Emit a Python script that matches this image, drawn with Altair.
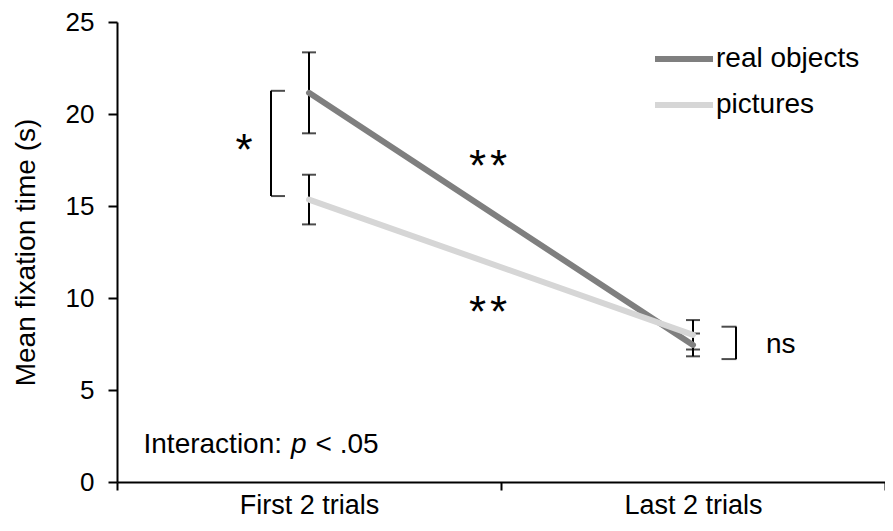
import altair as alt
import pandas as pd

# ---- data ----
conditions = ["First 2 trials", "Last 2 trials"]
series_names = ["real objects", "pictures"]
real_means = [21.15, 7.45]
real_errors = [2.2, 0.62]
picture_means = [15.35, 8.0]
picture_errors = [1.35, 0.8]
series_colors = ["#7f7f7f", "#d6d6d6"]
y_ticks = [0, 5, 10, 15, 20, 25]

rows = []
for name, means, errs in [
    (series_names[0], real_means, real_errors),
    (series_names[1], picture_means, picture_errors),
]:
    for c, m, e in zip(conditions, means, errs):
        rows.append({"condition": c, "series": name, "mean": m, "lo": m - e, "hi": m + e})
df = pd.DataFrame(rows)

FONT = "Liberation Sans"
FIRST, LAST = conditions

x_enc = alt.X(
    "condition:N",
    bandPosition=0.5,
    scale=alt.Scale(type="band", domain=conditions, paddingInner=0, paddingOuter=0),
    axis=alt.Axis(
        title=None, tickBand="extent", labelFontSize=27, labelPadding=2,
        tickSize=8, labelAngle=0,
    ),
)
y_scale = alt.Scale(domain=[0, 25], nice=False, zero=True)
y_enc = alt.Y(
    "mean:Q",
    scale=y_scale,
    axis=alt.Axis(
        values=y_ticks, title="Mean fixation time (s)", grid=False,
        labelFontSize=26, labelPadding=14, tickSize=9,
        titleFontSize=28, titleFontWeight="normal", titlePadding=25,
    ),
)

base = alt.Chart(df)

err_rule = base.mark_rule(color="black", strokeWidth=2).encode(
    x=x_enc, y=alt.Y("lo:Q", scale=y_scale), y2="hi:Q"
)
cap_lo = base.mark_tick(color="black", size=14, thickness=2).encode(
    x=x_enc, y=alt.Y("lo:Q", scale=y_scale)
)
cap_hi = base.mark_tick(color="black", size=14, thickness=2).encode(
    x=x_enc, y=alt.Y("hi:Q", scale=y_scale)
)
lines = base.mark_line(strokeWidth=6, strokeCap="round").encode(
    x=x_enc,
    y=y_enc,
    color=alt.Color(
        "series:N",
        scale=alt.Scale(domain=series_names, range=series_colors),
        legend=alt.Legend(
            title=None, orient="none", legendX=535, legendY=5,
            symbolType="stroke", symbolStrokeWidth=6, symbolSize=3364,
            labelFontSize=28, labelFont=FONT, labelColor="black",
            labelOffset=0, rowPadding=-4, padding=0,
        ),
    ),
    order=alt.Order("series:N", sort="ascending"),
)


def xd(cat):
    return alt.XDatum(cat, bandPosition=0.5)


def yd(v):
    return alt.YDatum(v, scale=y_scale)


# annotations use a single-row dataset so each mark is drawn once
ann = alt.Chart(alt.Data(values=[{}]))

# bracket for "*"
br1_v = ann.mark_rule(color="black", strokeWidth=2, xOffset=-38).encode(
    x=xd(FIRST), y=yd(21.26), y2=alt.Y2Datum(15.54)
)
br1_a = ann.mark_tick(color="black", size=14, thickness=2, xOffset=-31).encode(
    x=xd(FIRST), y=yd(21.26)
)
br1_b = ann.mark_tick(color="black", size=14, thickness=2, xOffset=-31).encode(
    x=xd(FIRST), y=yd(15.54)
)
# bracket for "ns"
br2_v = ann.mark_rule(color="black", strokeWidth=2, xOffset=43).encode(
    x=xd(LAST), y=yd(8.44), y2=alt.Y2Datum(6.68)
)
br2_a = ann.mark_tick(color="black", size=15, thickness=2, xOffset=36).encode(
    x=xd(LAST), y=yd(8.44)
)
br2_b = ann.mark_tick(color="black", size=15, thickness=2, xOffset=36).encode(
    x=xd(LAST), y=yd(6.68)
)

txt = dict(font=FONT, color="black", baseline="alphabetic", fontWeight="normal")


def star(dx, yv):
    return ann.mark_text(text="*", fontSize=44, align="center", xOffset=dx, **txt).encode(
        x=xd(FIRST), y=yd(yv)
    )


stars = [
    star(-65, 17.24),
    star(168.5, 16.34), star(189.5, 16.34),
    star(168.5, 8.4), star(189.5, 8.4),
]
ns = ann.mark_text(text="ns", fontSize=28, align="left", xOffset=73, **txt).encode(
    x=xd(LAST), y=yd(7.0)
)
inter1 = ann.mark_text(text="Interaction:", fontSize=28, align="left", xOffset=-165.5, **txt).encode(
    x=xd(FIRST), y=yd(1.6)
)
inter2 = ann.mark_text(text="p", fontSize=28, fontStyle="italic", align="left", xOffset=-18, **txt).encode(
    x=xd(FIRST), y=yd(1.6)
)
inter3 = ann.mark_text(text="< .05", fontSize=28, align="left", xOffset=6.5, **txt).encode(
    x=xd(FIRST), y=yd(1.6)
)

chart = (
    alt.layer(
        err_rule, cap_lo, cap_hi, lines,
        br1_v, br1_a, br1_b, br2_v, br2_a, br2_b,
        *stars, ns, inter1, inter2, inter3,
    )
    .properties(
        width=768, height=460,
        padding={"left": 109, "top": 14, "right": 0, "bottom": 41},
        autosize=alt.AutoSizeParams(type="none"),
        background="white",
    )
    .configure_view(stroke=None)
    .configure_axis(
        domainColor="black", domainWidth=2, tickColor="black", tickWidth=2,
        labelColor="black", titleColor="black", labelFont=FONT, titleFont=FONT,
    )
)

chart.save("out.html", embed_options={"renderer": "svg", "actions": False})
